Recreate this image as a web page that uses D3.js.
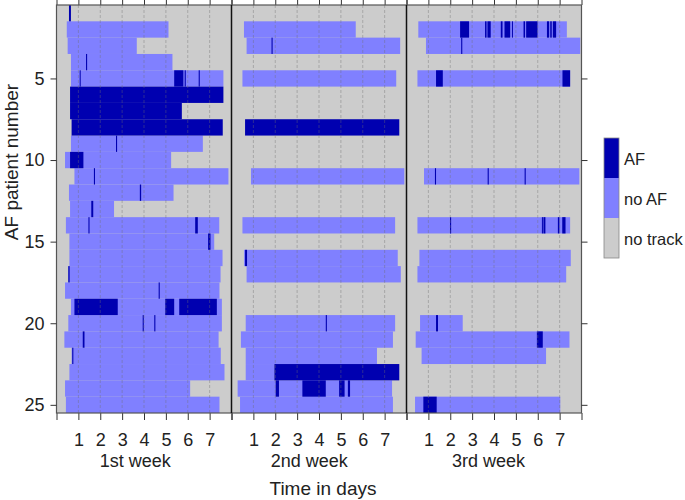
<!DOCTYPE html>
<html>
<head>
<meta charset="utf-8">
<script src="https://cdn.jsdelivr.net/npm/d3@7"></script>
<style>
  body { margin: 0; background: #fff; }
  svg text { font-family: "Liberation Sans", Arial, sans-serif; fill: #222; }
</style>
</head>
<body>
<svg id="chart" width="685" height="500"></svg>
<script>
const weekLabels = ["1st week", "2nd week", "3rd week"];
const dayTicks = [0, 1, 2, 3, 4, 5, 6, 7, 8];
const patientTicks = [5, 10, 15, 20, 25];
const legendLabels = ["AF", "no AF", "no track"];

// [patient, start day, end day]
const week1NoAF = [
  [2, 0.47, 5.12], [3, 0.51, 3.67], [4, 0.66, 5.30], [5, 0.66, 7.63],
  [9, 0.66, 6.69], [10, 0.39, 5.24], [11, 0.82, 7.86], [12, 0.57, 5.35],
  [13, 0.62, 2.63], [14, 0.43, 7.44], [15, 0.59, 7.21], [16, 0.59, 7.59],
  [17, 0.54, 7.50], [18, 0.39, 7.45], [19, 0.66, 7.56], [20, 0.54, 7.56],
  [21, 0.36, 7.41], [22, 0.69, 7.51], [23, 0.59, 7.68], [24, 0.39, 6.11],
  [25, 0.43, 7.45]
];
const week1AF = [
  [1, 0.57, 0.66], [4, 1.35, 1.40], [5, 1.06, 1.10], [5, 5.38, 5.80],
  [5, 5.86, 5.91], [5, 6.50, 6.55], [6, 0.62, 7.63], [7, 0.62, 5.73],
  [8, 0.69, 7.60], [9, 2.72, 2.77], [10, 0.62, 1.23], [11, 1.71, 1.76],
  [12, 3.81, 3.87], [13, 1.59, 1.68], [14, 1.46, 1.51], [14, 6.34, 6.46],
  [15, 6.93, 7.04], [17, 0.54, 0.60], [18, 4.67, 4.72], [19, 0.82, 2.80],
  [19, 4.97, 5.38], [19, 5.61, 7.33], [20, 3.94, 3.99], [20, 4.47, 4.52],
  [21, 1.20, 1.28], [22, 0.72, 0.77]
];
const week2NoAF = [
  [2, 0.57, 5.68], [3, 0.69, 7.71], [5, 0.50, 7.53], [11, 0.89, 7.90],
  [14, 0.50, 7.48], [16, 0.57, 7.60], [17, 0.69, 7.74], [20, 0.65, 7.48],
  [21, 0.43, 7.38], [22, 0.65, 6.65], [23, 0.65, 1.96], [24, 0.28, 7.34],
  [25, 0.39, 7.38]
];
const week2AF = [
  [3, 1.83, 1.88], [8, 0.62, 7.67], [16, 0.62, 0.71], [20, 4.31, 4.36],
  [23, 1.96, 7.67], [24, 2.02, 2.17], [24, 3.24, 4.31], [24, 4.92, 5.17],
  [24, 5.32, 5.42]
];
const week3NoAF = [
  [2, 0.54, 7.33], [3, 0.89, 7.94], [5, 0.50, 7.48], [11, 0.80, 7.90],
  [14, 0.50, 7.48], [16, 0.59, 7.51], [17, 0.50, 7.30], [20, 0.62, 2.57],
  [21, 0.42, 7.45], [22, 0.69, 6.38], [25, 0.39, 7.03]
];
const week3AF = [
  [2, 2.45, 2.86], [2, 3.59, 3.66], [2, 3.70, 3.85], [2, 4.31, 4.39],
  [2, 4.48, 4.74], [2, 4.82, 4.86], [2, 5.35, 5.42], [2, 5.47, 5.99],
  [2, 6.42, 6.52], [2, 6.57, 6.64], [2, 6.69, 6.84], [3, 2.50, 2.55],
  [5, 1.35, 1.66], [5, 7.13, 7.48], [11, 1.30, 1.35], [11, 3.71, 3.76],
  [11, 5.40, 5.45], [14, 1.99, 2.04], [14, 6.19, 6.23], [14, 6.26, 6.35],
  [14, 6.92, 6.99], [14, 7.12, 7.27], [20, 1.35, 1.44], [21, 5.96, 6.23],
  [25, 0.77, 1.38]
];

const weeks = [
  { noAF: week1NoAF, af: week1AF },
  { noAF: week2NoAF, af: week2AF },
  { noAF: week3NoAF, af: week3AF }
];

const colors = { af: "#0000b0", noAF: "#8080ff", none: "#cccccc" };

const plotLeft = 56.5, plotTop = 5, plotBottom = 413, panelWidth = 175;
const labelDay = [3.6, 3.55, 3.75];

const svg = d3.select("#chart");

const x = d3.scaleLinear().domain([0, 8]).range([0, panelWidth]);
const y = d3.scaleLinear().domain([0.5, 25.5]).range([plotTop, plotBottom]);
const rowH = y(1) - y(0);

weeks.forEach((w, i) => {
  const g = svg.append("g")
    .attr("transform", `translate(${plotLeft + i * panelWidth},0)`);

  g.append("rect")
    .attr("x", 0).attr("y", plotTop)
    .attr("width", panelWidth).attr("height", plotBottom - plotTop)
    .attr("fill", colors.none);

  g.selectAll(".noaf")
    .data(w.noAF)
    .enter().append("rect")
    .attr("x", d => x(d[1]))
    .attr("y", d => y(d[0] - 0.5))
    .attr("width", d => x(d[2]) - x(d[1]))
    .attr("height", rowH)
    .attr("fill", colors.noAF);

  g.selectAll(".af")
    .data(w.af)
    .enter().append("rect")
    .attr("x", d => x(d[1]))
    .attr("y", d => y(d[0] - 0.5))
    .attr("width", d => Math.max(1, x(d[2]) - x(d[1])))
    .attr("height", rowH)
    .attr("fill", colors.af);

  // dashed day grid
  g.selectAll(".grid")
    .data(dayTicks.slice(1, 8))
    .enter().append("line")
    .attr("x1", d => x(d)).attr("x2", d => x(d))
    .attr("y1", plotTop).attr("y2", plotBottom)
    .attr("stroke", "rgba(110,110,110,0.4)")
    .attr("stroke-width", 1)
    .attr("stroke-dasharray", "3,2");

  g.append("g")
    .attr("transform", `translate(0,${plotBottom})`)
    .call(d3.axisBottom(x).tickValues(dayTicks).tickSize(7).tickPadding(13)
      .tickFormat(d => (d > 0 && d < 8) ? d : ""))
    .call(a => a.select(".domain").remove())
    .call(a => a.selectAll("line").attr("stroke", "#333"))
    .call(a => a.selectAll("text").attr("font-size", 18).attr("fill", "#222")
      .attr("font-family", "Liberation Sans, Arial, sans-serif"));

  g.append("g")
    .attr("transform", `translate(0,${plotTop})`)
    .call(d3.axisTop(x).tickValues(dayTicks).tickSize(6).tickFormat(""))
    .call(a => a.select(".domain").remove())
    .call(a => a.selectAll("line").attr("stroke", "#333"));

  g.append("text")
    .attr("x", x(labelDay[i]))
    .attr("y", 467)
    .attr("text-anchor", "middle")
    .attr("font-size", 18)
    .text(weekLabels[i]);
});

// frame and week separators
svg.append("rect")
  .attr("x", plotLeft).attr("y", plotTop)
  .attr("width", panelWidth * 3).attr("height", plotBottom - plotTop)
  .attr("fill", "none").attr("stroke", "#555").attr("stroke-width", 1.2);

svg.selectAll(".sep")
  .data([1, 2])
  .enter().append("line")
  .attr("x1", d => plotLeft + d * panelWidth).attr("x2", d => plotLeft + d * panelWidth)
  .attr("y1", plotTop).attr("y2", plotBottom)
  .attr("stroke", "#111").attr("stroke-width", 1.5);

svg.append("g")
  .attr("transform", `translate(${plotLeft},0)`)
  .call(d3.axisLeft(y).tickValues(patientTicks).tickSize(6).tickPadding(6))
  .call(a => a.select(".domain").remove())
  .call(a => a.selectAll("line").attr("stroke", "#333"))
  .call(a => a.selectAll("text").attr("font-size", 18).attr("fill", "#222")
    .attr("font-family", "Liberation Sans, Arial, sans-serif"));

svg.append("g")
  .attr("transform", `translate(${plotLeft + panelWidth * 3},0)`)
  .call(d3.axisRight(y).tickValues(patientTicks).tickSize(6).tickFormat(""))
  .call(a => a.select(".domain").remove())
  .call(a => a.selectAll("line").attr("stroke", "#333"));

svg.append("text")
  .attr("transform", "translate(18,162) rotate(-90)")
  .attr("text-anchor", "middle")
  .attr("font-size", 19)
  .text("AF patient number");

svg.append("text")
  .attr("x", 323)
  .attr("y", 495)
  .attr("text-anchor", "middle")
  .attr("font-size", 19)
  .text("Time in days");

// legend
const legendColors = [colors.af, colors.noAF, colors.none];
const legend = svg.append("g").attr("transform", "translate(604,138)");
legend.selectAll("rect")
  .data(legendLabels)
  .enter().append("rect")
  .attr("x", 0)
  .attr("y", (d, i) => i * 40)
  .attr("width", 15)
  .attr("height", 40)
  .attr("fill", (d, i) => legendColors[i]);
legend.append("rect")
  .attr("width", 15).attr("height", 120)
  .attr("fill", "none").attr("stroke", "#888").attr("stroke-width", 0.8);
legend.selectAll("text")
  .data(legendLabels)
  .enter().append("text")
  .attr("x", 20)
  .attr("y", (d, i) => i * 40 + 27)
  .attr("font-size", 16.5)
  .text(d => d);
</script>
</body>
</html>
